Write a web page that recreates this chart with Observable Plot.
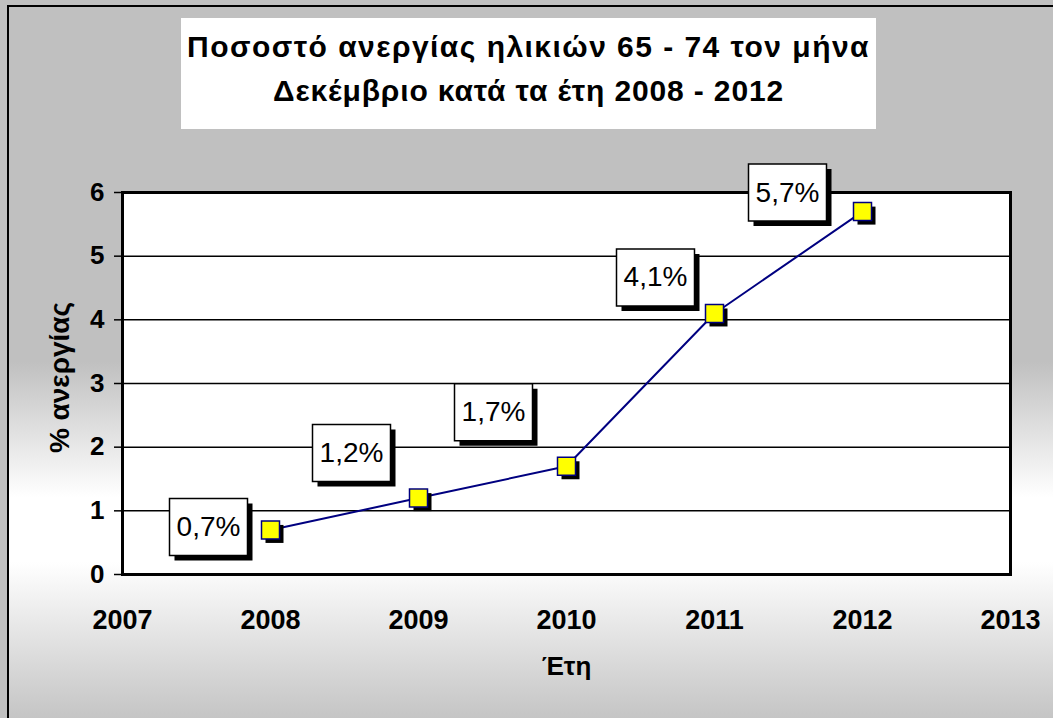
<!DOCTYPE html>
<html>
<head>
<meta charset="utf-8">
<script src="https://cdn.jsdelivr.net/npm/d3@7"></script>
<script src="https://cdn.jsdelivr.net/npm/@observablehq/plot@0.6"></script>
<style>
  html, body { margin: 0; padding: 0; width: 1053px; height: 718px; overflow: hidden; background: #c0c0c0; }
  #wrap { position: absolute; left: 0; top: 0; width: 1053px; height: 718px; }
  #bg { position: absolute; left: 7px; top: 5px; width: 1060px; height: 720px;
        border-left: 2px solid #000; border-top: 2px solid #000;
        background: linear-gradient(to bottom, #c0c0c0 0px, #c0c0c0 355px, #ffffff 490px, #ffffff 555px, #c4c4c4 713px); }
  #titlebox { position: absolute; left: 181px; top: 18px; width: 695px; height: 111px; background: #fff; }
  .tline { position: absolute; left: 0; width: 695px; text-align: center; white-space: nowrap;
           font-family: "Liberation Sans", Arial, sans-serif; font-weight: bold; font-size: 30px; line-height: 34px; color: #000; }
  #chart { position: absolute; left: 0; top: 0; }
  #chart svg text { font-family: "Liberation Sans", Arial, sans-serif; }
  #chart g[aria-label="x-axis tick label"] text, #chart g[aria-label="y-axis tick label"] text { font-weight: bold; }
</style>
</head>
<body>
<div id="wrap">
  <div id="bg"></div>
  <div id="titlebox">
    <div class="tline" id="t1" style="top: 12px;"><span>Ποσοστό ανεργίας ηλικιών 65 - 74 τον μήνα</span></div>
    <div class="tline" id="t2" style="top: 56px;"><span>Δεκέμβριο κατά τα έτη 2008 - 2012</span></div>
  </div>
  <div id="chart"></div>
</div>
<script>
// ---- data ----
const years = [2008, 2009, 2010, 2011, 2012];
const rates = [0.7, 1.2, 1.7, 4.1, 5.7];
const labels = ["0,7%", "1,2%", "1,7%", "4,1%", "5,7%"];
const xTicks = [2007, 2008, 2009, 2010, 2011, 2012, 2013];
const yTicks = [0, 1, 2, 3, 4, 5, 6];
const xTitle = "Έτη";
const yTitle = "% ανεργίας";

// ---- layout / style (label box offsets in pixels, as dragged in the original) ----
const labelOffsets = [[-62, -3], [-67, -45], [-73, -54], [-59, -36], [-75, -19]];

const data = years.map((year, i) => ({year, rate: rates[i], label: labels[i]}));

const boxSymbol = {draw(ctx) { ctx.rect(-39, -28.5, 78, 57); }};
const squareSymbol = {draw(ctx) { ctx.rect(-9, -9, 18, 18); }};

const labelMarks = labelOffsets.flatMap(([dx, dy], i) => [
  Plot.dot([data[i]], {x: "year", y: "rate", symbol: boxSymbol, fill: "#000", stroke: "none", dx: dx + 5, dy: dy + 5}),
  Plot.dot([data[i]], {x: "year", y: "rate", symbol: boxSymbol, fill: "#fff", stroke: "#000", strokeWidth: 1.5, dx, dy}),
  Plot.text([data[i]], {x: "year", y: "rate", text: "label", fontSize: 28, fill: "#000", dx, dy})
]);

const chart = Plot.plot({
  width: 1053,
  height: 718,
  marginLeft: 122,
  marginRight: 43,
  marginTop: 192,
  marginBottom: 144,
  style: {background: "transparent", fontFamily: "Liberation Sans, Arial, sans-serif", overflow: "visible"},
  x: {domain: [2007, 2013], ticks: xTicks, tickFormat: d => String(d)},
  y: {domain: [0, 6], ticks: yTicks, tickFormat: d => String(d)},
  marks: [
    Plot.frame({fill: "#fff", stroke: "none"}),
    Plot.ruleY(yTicks.slice(1, -1), {stroke: "#000", strokeWidth: 1.5}),
    Plot.frame({stroke: "#000", strokeWidth: 3}),
    Plot.axisY({ticks: yTicks, tickSize: 8, tickPadding: 10, fontSize: 26, fontWeight: "bold", label: null, strokeWidth: 1.5, tickFormat: d => String(d)}),
    Plot.axisX({ticks: xTicks, tickSize: 0, tickPadding: 35, fontSize: 27, fontWeight: "bold", label: null, tickFormat: d => String(d)}),
    Plot.text([yTitle], {frameAnchor: "left", textAnchor: "middle", text: d => d, rotate: -90, dx: -62, dy: -6, fontSize: 28, fontWeight: "bold", fill: "#000"}),
    Plot.text([xTitle], {frameAnchor: "bottom", text: d => d, dy: 100, fontSize: 26, fontWeight: "bold", fill: "#000"}),
    Plot.line(data, {x: "year", y: "rate", stroke: "#000080", strokeWidth: 2}),
    Plot.dot(data, {x: "year", y: "rate", symbol: squareSymbol, fill: "#000", stroke: "none", dx: 4, dy: 4}),
    Plot.dot(data, {x: "year", y: "rate", symbol: squareSymbol, fill: "#ffff00", stroke: "#000080", strokeWidth: 1.5}),
    ...labelMarks
  ]
});
document.getElementById("chart").append(chart);

// fit title letter spacing to the original's measured widths
[["t1", 683], ["t2", 511]].forEach(([id, target]) => {
  const span = document.querySelector("#" + id + " span");
  const w = span.getBoundingClientRect().width;
  const n = span.textContent.length;
  span.style.letterSpacing = ((target - w) / n) + "px";
});
</script>
</body>
</html>
